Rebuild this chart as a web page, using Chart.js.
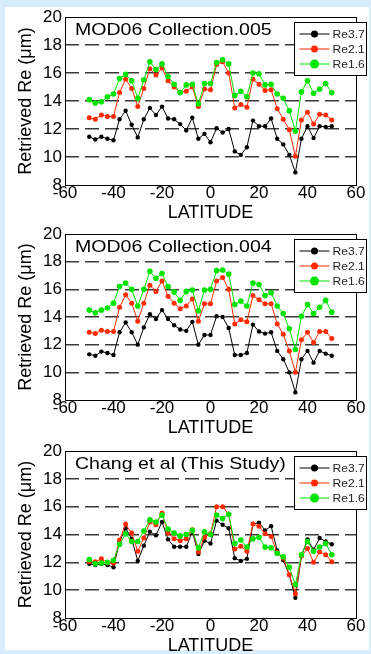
<!DOCTYPE html>
<html><head><meta charset="utf-8">
<script src="https://cdn.jsdelivr.net/npm/chart.js@4.4.1/dist/chart.umd.min.js"></script>
<style>
html,body{margin:0;padding:0;width:371px;height:654px;overflow:hidden;background:#d8edfb;}
#frame{position:absolute;left:5px;top:7px;width:364px;height:643px;background:#fff;}
canvas{position:absolute;left:0;}
</style></head><body>
<div id="frame"></div>
<canvas id="c1" width="371" height="224" style="top:0px"></canvas>
<canvas id="c2" width="371" height="222" style="top:217px"></canvas>
<canvas id="c3" width="371" height="223" style="top:434px"></canvas>
<script>
// ---- data ----
const latitudes = [-50,-47.5,-45,-42.5,-40,-37.5,-35,-32.5,-30,-27.5,-25,-22.5,-20,-17.5,-15,-12.5,-10,-7.5,-5,-2.5,0,
  2.5,5,7.5,10,12.5,15,17.5,20,22.5,25,27.5,30,32.5,35,37.5,40,42.5,45,47.5,50];
const xTickLabels = [-60,-40,-20,0,20,40,60];
const yTickLabels = [8,10,12,14,16,18,20];
const seriesNames = ['Re3.7','Re2.1','Re1.6'];
const panelTitles = ['MOD06 Collection.005','MOD06 Collection.004','Chang et al (This Study)'];
const xAxisTitle = 'LATITUDE';
const yAxisTitle = 'Retrieved Re (\u03bcm)';

const c005_re37 = [11.45,11.25,11.45,11.3,11.2,12.7,13.3,12.3,11.4,12.7,13.5,13.0,13.6,12.75,12.7,12.35,11.9,12.8,11.3,11.65,11.05,
  12.05,11.75,12.0,10.4,10.15,10.7,12.6,12.2,12.2,12.75,11.3,10.9,10.15,8.9,11.3,12.2,11.35,12.2,12.15,12.2];
const c005_re21 = [12.8,12.7,13.0,12.9,12.9,14.6,15.55,14.9,13.6,14.9,16.3,15.85,16.35,15.45,15.0,14.6,14.7,15.0,13.6,14.85,14.8,
  16.6,16.8,16.0,13.5,13.75,13.55,15.55,15.2,14.75,14.8,13.45,12.7,11.95,10.05,12.65,13.2,12.35,13.05,13.0,12.65];
const c005_re16 = [14.1,13.85,13.95,14.3,14.5,15.6,15.9,15.45,14.2,15.5,16.8,16.25,16.65,15.75,15.2,14.6,15.15,15.2,13.8,15.25,15.25,
  16.75,16.95,16.65,14.4,14.7,14.3,16.0,15.95,15.15,15.2,14.5,14.2,13.3,11.85,14.65,15.45,14.55,14.85,15.25,14.6];

const c004_re37 = [11.3,11.2,11.5,11.4,11.25,12.9,13.6,12.9,12.0,13.25,14.2,13.85,14.5,13.85,13.4,13.1,13.0,13.65,12.0,12.7,12.7,
  14.05,14.0,13.2,11.25,11.25,11.4,13.45,12.95,12.8,12.9,11.55,10.95,10.0,8.55,10.95,11.55,10.7,11.55,11.35,11.2];
const c004_re21 = [12.9,12.8,13.05,12.95,12.95,14.7,15.6,15.0,13.7,15.0,16.3,15.85,16.6,15.5,15.0,14.6,14.8,15.3,13.7,14.95,14.95,
  16.6,16.85,16.0,13.5,13.8,13.65,15.55,15.25,14.95,14.95,13.5,12.75,11.55,10.0,12.35,12.9,12.15,12.95,12.95,12.45];
const c004_re16 = [14.5,14.3,14.5,14.65,15.0,16.2,16.45,16.0,14.8,16.0,17.3,16.8,17.15,16.2,15.8,15.2,15.85,15.95,14.45,15.95,16.0,
  17.35,17.4,17.1,14.9,15.15,14.8,16.45,16.35,15.55,15.75,14.8,14.25,13.15,11.65,14.05,14.9,14.25,14.7,15.2,14.35];

const chang_re37 = [11.9,11.8,11.9,11.8,11.65,13.5,14.45,13.7,12.1,13.2,14.2,13.95,14.9,13.65,13.12,13.12,13.12,14.2,12.6,13.55,13.35,
  15.0,14.7,14.45,12.3,12.1,12.25,14.75,14.85,14.3,14.6,12.85,12.15,11.1,9.45,12.45,13.65,12.9,13.75,13.5,13.3];
const chang_re21 = [12.05,12.05,12.25,11.95,11.95,13.6,14.75,14.1,12.8,13.75,14.9,14.7,15.55,14.1,13.7,13.55,13.7,14.35,12.75,13.8,14.05,
  16.0,16.0,15.45,12.95,13.15,12.8,14.75,14.6,14.05,13.85,12.7,12.3,11.1,9.75,12.45,13.0,12.0,12.75,12.55,12.05];
const chang_re16 = [12.2,11.9,11.95,12.0,12.15,13.3,14.05,13.5,13.5,14.25,15.05,14.9,15.4,14.4,14.1,13.9,14.0,14.3,13.05,14.2,14.0,
  15.4,15.15,15.45,13.35,13.6,13.1,13.7,13.8,13.1,13.05,12.65,12.4,11.65,10.4,12.55,13.5,12.8,13.1,13.35,12.55];

// ---- styling ----
const FAMILY = '"Liberation Sans", Arial, Helvetica, sans-serif';
Chart.defaults.font.family = FAMILY;
Chart.defaults.color = '#000';
const COLORS = ['#000000', '#ff2a00', '#00e400'];
const RADII = [2.2, 2.5, 2.8];
const LEG_RADII = [3.5, 3.5, 4.5];

const panelPlugin = {
  id: 'panelDecor',
  beforeDatasetsDraw(chart) {
    const {ctx, chartArea: a} = chart;
    ctx.save();
    ctx.strokeStyle = '#000';
    ctx.lineWidth = 1;
    ctx.strokeRect(Math.round(a.left) + 0.5, Math.round(a.top) + 0.5,
                   Math.round(a.right - a.left), Math.round(a.bottom - a.top));
    ctx.restore();
  },
  afterDraw(chart, args, opts) {
    const {ctx, chartArea: a} = chart;
    ctx.save();
    ctx.fillStyle = '#000';
    ctx.textBaseline = 'middle';
    ctx.font = '17px ' + FAMILY;
    ctx.translate(a.left + 10, a.top + 13);
    ctx.scale(1.15, 1);
    ctx.fillText(opts.title, 0, 0);
    ctx.restore();
    const bx = Math.round(a.right) - 61.5, by = Math.round(a.top) + 5.5, bw = 72, bh = 53;
    ctx.save();
    ctx.fillStyle = '#fff';
    ctx.fillRect(bx, by, bw, bh);
    ctx.strokeStyle = '#000';
    ctx.lineWidth = 1;
    ctx.strokeRect(bx, by, bw, bh);
    chart.data.datasets.forEach((ds, i) => {
      const yy = a.top + 17 + i * 15;
      ctx.strokeStyle = ds.borderColor;
      ctx.lineWidth = 1;
      ctx.beginPath();
      ctx.moveTo(bx + 5, yy);
      ctx.lineTo(bx + 35, yy);
      ctx.stroke();
      ctx.fillStyle = ds.backgroundColor;
      ctx.beginPath();
      ctx.arc(bx + 20, yy, LEG_RADII[i], 0, Math.PI * 2);
      ctx.fill();
      ctx.save();
      ctx.fillStyle = '#222';
      ctx.font = '11px ' + FAMILY;
      ctx.textBaseline = 'middle';
      ctx.translate(bx + 38, yy + 0.5);
      ctx.scale(1.1, 1);
      ctx.fillText(ds.label, 0, 0);
      ctx.restore();
    });
    ctx.restore();
  }
};

function toPoints(vals) {
  return latitudes.map((lat, i) => ({x: lat, y: vals[i]}));
}

function makePanel(id, title, series) {
  const datasets = series.map((vals, i) => ({
    label: seriesNames[i],
    data: toPoints(vals),
    borderColor: COLORS[i],
    backgroundColor: COLORS[i],
    borderWidth: 1,
    pointRadius: RADII[i],
    pointBorderWidth: 0,
    pointHoverRadius: RADII[i],
    tension: 0,
    order: 3 - i
  }));
  new Chart(document.getElementById(id), {
    type: 'line',
    data: {datasets},
    plugins: [panelPlugin],
    options: {
      responsive: false,
      animation: false,
      events: [],
      layout: {padding: {top: 17, right: 15, left: 0, bottom: 0}},
      plugins: {
        legend: {display: false},
        tooltip: {enabled: false},
        panelDecor: {title}
      },
      scales: {
        x: {
          type: 'linear',
          min: xTickLabels[0], max: xTickLabels[xTickLabels.length - 1],
          afterBuildTicks: s => { s.ticks = xTickLabels.map(v => ({value: v})); },
          ticks: {font: {size: 17}, color: '#000', padding: -2, maxRotation: 0},
          grid: {display: false, drawTicks: false},
          border: {display: false},
          title: {display: true, text: xAxisTitle, font: {size: 18}, color: '#000', padding: 0},
          afterFit: s => { s.height = 39; }
        },
        y: {
          type: 'linear',
          min: yTickLabels[0], max: yTickLabels[yTickLabels.length - 1],
          afterBuildTicks: s => { s.ticks = yTickLabels.map(v => ({value: v})); },
          ticks: {font: {size: 17}, color: '#000', padding: 3},
          grid: {
            drawTicks: false,
            lineWidth: 1.5,
            color: c => (c.tick && (c.tick.value === 8 || c.tick.value === 20)) ? 'rgba(0,0,0,0)' : '#3a3a3a'
          },
          border: {display: false, dash: [14, 6]},
          title: {display: true, text: yAxisTitle, font: {size: 18}, color: '#000', padding: {top: 15, bottom: 0}},
          afterFit: s => { s.width = 65; }
        }
      }
    }
  });
}

makePanel('c1', panelTitles[0], [c005_re37, c005_re21, c005_re16]);
makePanel('c2', panelTitles[1], [c004_re37, c004_re21, c004_re16]);
makePanel('c3', panelTitles[2], [chang_re37, chang_re21, chang_re16]);
</script>
</body></html>
